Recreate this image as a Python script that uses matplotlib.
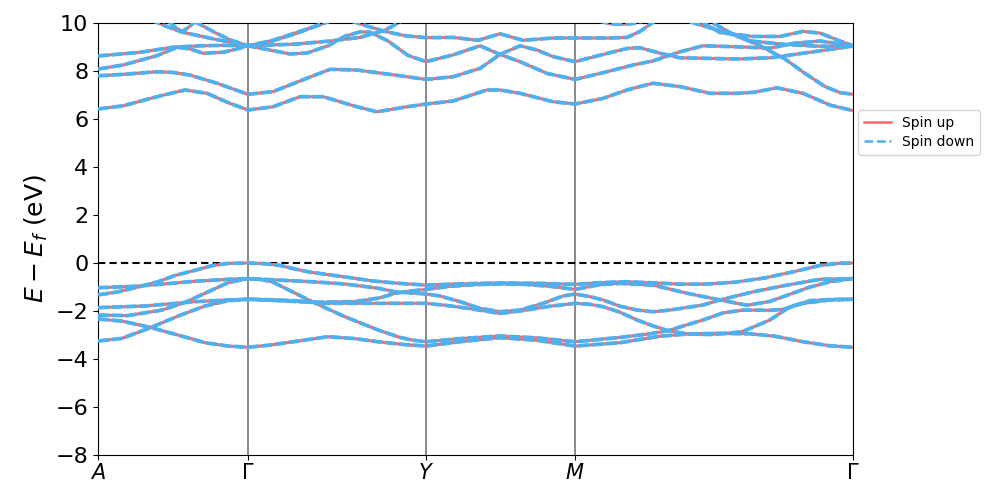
import matplotlib
matplotlib.use("Agg")
import matplotlib.pyplot as plt
from matplotlib.lines import Line2D

# k-path tick positions and labels (path-length units)
KTICKS = [0, 150, 328, 477, 755]
KLABELS = [r'$A$', r'$\Gamma$', r'$Y$', r'$M$', r'$\Gamma$']

# ---- valence bands ----
V1_K = [0,20,40,60,77,100,115,130,150, 167,182,197,212,247,275,302,328, 362,402,442,477, 502,527,552,582,607,637,667,697,722,742,755]
V1_E = [-1.33,-1.2,-1.0,-0.78,-0.52,-0.27,-0.1,-0.02,0.0, -0.03,-0.1,-0.25,-0.38,-0.58,-0.75,-0.85,-0.92, -0.87,-0.83,-0.85,-0.89, -0.82,-0.78,-0.82,-0.88,-0.88,-0.8,-0.62,-0.35,-0.1,-0.01,0.0]

V2_K = [0,37,64,97,130,150, 180,214,247,280,297,328, 342,362,382,402,422,445,465,477, 492,505,522,539,555,572,605,622,655,689,722,755]
V2_E = [-1.03,-0.97,-0.88,-0.76,-0.68,-0.65, -0.71,-0.78,-0.875,-1.05,-1.2,-1.29, -1.375,-1.61,-1.89,-2.03,-1.96,-1.68,-1.375,-1.29, -1.4,-1.54,-1.8,-1.96,-2.03,-1.96,-1.75,-1.54,-1.2,-0.92,-0.68,-0.65]

V3_K = [0,47,97,130,150, 172,197,230,264,328, 347,372,402,422,452,477, 492,505,522,539,555,570,589,612,632,645,672,692,712,732,755]
V3_E = [-1.86,-1.79,-1.61,-1.54,-1.51, -1.53,-1.57,-1.68,-1.68,-1.68, -1.76,-1.9,-2.1,-2.0,-1.8,-1.68, -1.72,-1.82,-2.05,-2.375,-2.62,-2.82,-2.95,-2.98,-2.92,-2.85,-2.37,-1.82,-1.57,-1.52,-1.51]

V4_K = [0,30,64,87,107,130,150, 162,174,192,214,247,280,302,314,328, 362,402,439,477, 522,552,570,587,605,625,645,672,685,705,732,755]
V4_E = [-2.17,-2.19,-1.96,-1.64,-1.26,-0.82,-0.65, -0.68,-0.78,-1.15,-1.61,-2.24,-2.79,-3.1,-3.21,-3.28, -3.15,-3.04,-3.12,-3.28, -3.1,-2.95,-2.82,-2.6,-2.375,-2.08,-1.96,-1.97,-1.93,-1.68,-1.54,-1.51]

V5_K = [0,24,52,80,107,130,150, 172,192,230,257,280,307,328, 362,402,439,477, 522,562,592,622,652,677,705,732,755]
V5_E = [-2.33,-2.42,-2.68,-3.0,-3.32,-3.46,-3.51, -3.42,-3.3,-3.07,-3.15,-3.28,-3.4,-3.46, -3.28,-3.11,-3.22,-3.46, -3.32,-3.05,-2.95,-2.93,-2.95,-3.05,-3.28,-3.45,-3.51]

V6_K = [0,24,52,80,107,130,150, 182,214,257,282,297,312,328, 352,377,402,427,452,477, 502,522,555,589,622,649,672,692,712,732,755]
V6_E = [-3.25,-3.14,-2.7,-2.21,-1.79,-1.57,-1.51, -1.57,-1.64,-1.61,-1.45,-1.26,-1.17,-1.10, -0.97,-0.9,-0.87,-0.89,-0.97,-1.10, -0.9,-0.85,-0.92,-1.26,-1.54,-1.76,-1.6,-1.3,-1.0,-0.78,-0.65]

# ---- conduction bands ----
C1_K = [0,25,59,87,109,132,150, 175,202,225,259,279,309,328, 355,389,402,422,455,477, 505,529,555,582,612,639,655,679,705,732,755]
C1_E = [6.42,6.55,6.93,7.21,7.07,6.65,6.375, 6.51,6.93,6.93,6.51,6.30,6.51,6.625, 6.75,7.21,7.21,7.07,6.72,6.625, 6.86,7.21,7.49,7.35,7.07,7.07,7.11,7.3,7.07,6.58,6.35]

C2_K = [0,25,59,75,92,119,150, 175,209,232,259,292,328, 355,382,402,422,439,455,477, 505,529,542,562,582,605,639,672,705,739,755]
C2_E = [7.80,7.86,7.97,7.94,7.83,7.49,7.03, 7.14,7.70,8.07,8.04,7.86,7.65, 7.76,8.11,8.69,9.05,8.875,8.6,8.39, 8.69,8.94,8.97,8.74,8.55,8.53,8.5,8.55,8.74,8.94,9.05]

C3_K = [0,25,59,79,92,105,125,142,150, 175,192,209,230,247,262,272,290,310,328, 355,382,402,422,449,477, 509,535,555,582,605,639,672,695,722,755]
C3_E = [8.08,8.25,8.64,8.99,8.92,8.74,8.78,8.95,9.05, 8.85,8.71,8.75,9.05,9.45,9.63,9.62,9.25,8.65,8.39, 8.67,9.05,8.69,8.39,7.9,7.65, 7.97,8.25,8.42,8.8,9.05,9.01,8.95,9.15,9.25,9.05]

C4_K = [0,42,75,102,125,150, 197,232,262,287,300,312]
C4_E = [8.625,8.78,8.99,9.05,9.07,9.05, 9.12,9.25,9.4,9.7,10.0,10.3]

C5_K = [52,67,84,114,150, 175,202,225,237]
C5_E = [10.15,9.88,9.62,9.35,9.05, 9.28,9.65,9.98,10.15]

C6_K = [70,78,84,90,98]
C6_E = [10.1,9.8,9.64,9.8,10.1]

C7_K = [95,117,132,150, 172,197,220,232]
C7_E = [10.1,9.6,9.3,9.05, 9.22,9.55,9.9,10.1]

C8_K = [252,267,287,307,328, 355,380,402,425,455,477, 512,529,542,554,562]
C8_E = [10.1,9.9,9.65,9.47,9.39, 9.40,9.28,9.55,9.28,9.375,9.375, 9.375,9.4,9.65,10.0,10.2]

C9_K = [500,512,522,534,547]
C9_E = [10.1,9.97,9.95,9.97,10.1]

C10_K = [592,612,637,662,687,707,727,742,755]
C10_E = [10.05,9.8,9.5,9.05,8.5,7.9,7.35,7.1,7.03]

C11_K = [602,622,655,682,705,722,742,755]
C11_E = [10.1,9.6,9.44,9.44,9.65,9.58,9.25,9.05]

C12_K = [615,639,655,689,722,755]
C12_E = [10.0,9.44,9.24,9.10,9.03,9.03]

BANDS = [(V1_K, V1_E), (V2_K, V2_E), (V3_K, V3_E), (V4_K, V4_E), (V5_K, V5_E), (V6_K, V6_E),
         (C1_K, C1_E), (C2_K, C2_E), (C3_K, C3_E), (C4_K, C4_E), (C5_K, C5_E), (C6_K, C6_E),
         (C7_K, C7_E), (C8_K, C8_E), (C9_K, C9_E), (C10_K, C10_E), (C11_K, C11_E), (C12_K, C12_E)]

RED = '#f86a6a'
BLUE = '#4ab2f2'

fig = plt.figure(figsize=(9.97, 4.98), dpi=100)
ax = fig.add_axes([0.0983, 0.0863, 0.7573, 0.8675])

for kx in KTICKS[1:-1]:
    ax.axvline(kx, color='#808080', lw=1.3, zorder=1)
ax.axhline(0, color='black', lw=1.5, ls=(0, (3.5, 2)), zorder=1)

for k, e in BANDS:
    ax.plot(k, e, color=RED, lw=2.2, solid_capstyle='round', zorder=2)
    ax.plot(k, e, color=BLUE, lw=2.7, ls=(0, (2.9, 0.8)), zorder=3)

ax.set_xlim(KTICKS[0], KTICKS[-1])
ax.set_ylim(-8, 10)
ax.set_xticks(KTICKS)
ax.set_xticklabels(KLABELS, fontsize=15)
ax.set_yticks(range(-8, 11, 2))
ax.tick_params(axis='y', labelsize=16)
ax.tick_params(axis='x', pad=2)
ax.set_ylabel(r'$E - E_f$ (eV)', fontsize=18)

handles = [Line2D([0], [0], color=RED, lw=1.8),
           Line2D([0], [0], color=BLUE, lw=1.8, ls=(0, (3.5, 1.5)))]
ax.legend(handles, ['Spin up', 'Spin down'], loc='upper left', bbox_to_anchor=(1.0066, 0.7986),
          borderaxespad=0, fontsize=10, frameon=True, handlelength=2.0, labelspacing=0.4)

fig.savefig('out.png', dpi=100)
